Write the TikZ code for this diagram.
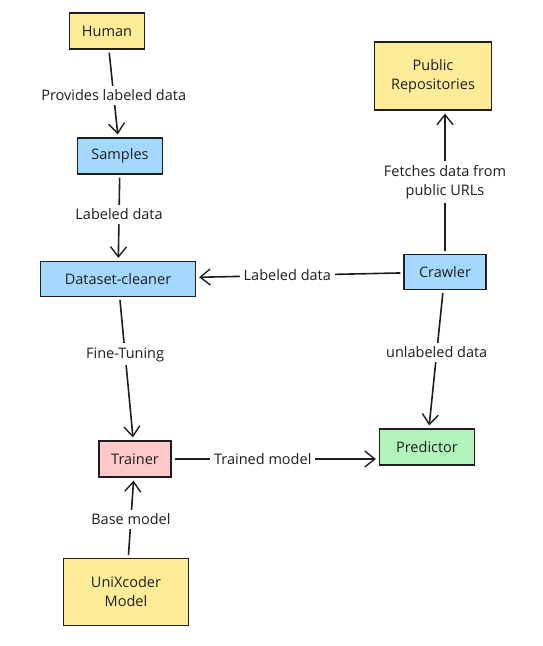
\documentclass[tikz,border=0pt]{standalone}
\usepackage{fontspec}
\setmainfont{Open Sans}
\usetikzlibrary{positioning}
\usetikzlibrary{arrows.meta}
\definecolor{ylw}{HTML}{FFEC99}
\definecolor{blu}{HTML}{A5D8FF}
\definecolor{pnk}{HTML}{FFC9C9}
\definecolor{grn}{HTML}{B2F2BB}
\definecolor{ink}{HTML}{1E1E1E}
\tikzset{
    mybox/.style = {rectangle, line width=1.2pt, draw=ink, align=center, font=\fontsize{14.5}{19}\selectfont, text=ink},
    myboxy/.style = {mybox, fill=ylw},
    myboxb/.style = {mybox, fill=blu},
    myboxr/.style = {mybox, fill=pnk},
    myboxg/.style = {mybox, fill=grn},
    edgen/.style = {-{Straight Barb[length=10pt,width=16pt,line width=1.4pt]}, line width=1.6pt, ink, shorten >=3pt, shorten <=3pt},
    edgel/.style = {fill=white, text=ink, font=\fontsize{14.5}{19}\selectfont, align=center, inner sep=4pt}
}
\begin{document}
\begin{tikzpicture}[x=1pt,y=-1pt]
  \useasboundingbox (0,0) rectangle (543,646);
  % boxes
  \node[myboxy, minimum width=75pt, minimum height=36pt] (human) at (107,31) {Human};
  \node[myboxb, minimum width=85pt, minimum height=36pt] (samples) at (120,156) {Samples};
  \node[myboxb, minimum width=155pt, minimum height=35pt] (cleaner) at (118,279) {Dataset-cleaner};
  \node[myboxy, minimum width=117pt, minimum height=68pt] (repos) at (433,76) {Public\\Repositories};
  \node[myboxb, minimum width=82pt, minimum height=35pt] (crawler) at (445,272) {Crawler};
  \node[myboxr, minimum width=72pt, minimum height=36pt] (trainer) at (135,459) {Trainer};
  \node[myboxg, minimum width=95pt, minimum height=36pt] (predictor) at (427,447) {Predictor};
  \node[myboxy, minimum width=125pt, minimum height=67pt] (unix) at (126,592) {UniXcoder\\Model};
  % connectors
  \draw[edgen] (human) -- node[edgel, pos=0.52] {Provides labeled data} (samples);
  \draw[edgen] (samples) -- node[edgel, pos=0.46] {Labeled data} (cleaner);
  \draw[edgen] (crawler) -- node[edgel, pos=0.56] {Labeled data} (cleaner);
  \draw[edgen] (crawler.north) -- node[edgel, pos=0.5] {Fetches data from\\public URLs} (crawler.north |- repos.south);
  \draw[edgen] (crawler) -- node[edgel, pos=0.45] {unlabeled data} (predictor);
  \draw[edgen] (cleaner) -- node[edgel, pos=0.4] {Fine-Tuning} (trainer);
  \draw[edgen] (trainer.east) -- node[edgel, pos=0.44] {Trained model} (predictor.west |- trainer.east);
  \draw[edgen] (unix) -- node[edgel, pos=0.48] {Base model} (trainer);
\end{tikzpicture}
\end{document}
